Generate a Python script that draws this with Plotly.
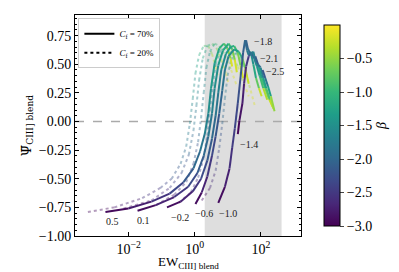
import plotly.graph_objects as go
from plotly.colors import sample_colorscale

# ---------------- data ----------------
# solid curves, C_f = 70 %  (log10 EW, Psi, beta)
s05_logew = [-2.70, -2.01, -1.31, -0.76, -0.34, -0.04, 0.16, 0.30, 0.41, 0.49, 0.60, 0.74, 0.88, 0.99, 1.08, 1.13]
s05_psi   = [-0.79, -0.76, -0.70, -0.63, -0.53, -0.41, -0.26, -0.11, 0.07, 0.29, 0.51, 0.64, 0.68, 0.64, 0.55, 0.48]
s05_beta  = [-3.0, -2.85, -2.65, -2.45, -2.25, -2.05, -1.9, -1.75, -1.6, -1.45, -1.3, -1.15, -1.0, -0.7, -0.35, 0.0]

s01_logew = [-1.73, -1.18, -0.62, -0.20, 0.08, 0.27, 0.41, 0.52, 0.60, 0.71, 0.85, 1.02, 1.13, 1.21, 1.27]
s01_psi   = [-0.78, -0.73, -0.66, -0.57, -0.45, -0.30, -0.13, 0.07, 0.29, 0.49, 0.62, 0.68, 0.63, 0.54, 0.43]
s01_beta  = [-3.0, -2.8, -2.6, -2.4, -2.2, -2.05, -1.9, -1.75, -1.6, -1.45, -1.3, -1.1, -0.8, -0.4, 0.0]

sm02_logew = [-0.84, -0.43, -0.06, 0.19, 0.38, 0.52, 0.63, 0.71, 0.80, 0.94, 1.08, 1.19, 1.30, 1.38, 1.46]
sm02_psi   = [-0.75, -0.70, -0.61, -0.50, -0.34, -0.15, 0.05, 0.25, 0.45, 0.59, 0.65, 0.66, 0.60, 0.49, 0.38]
sm02_beta  = [-3.0, -2.8, -2.6, -2.4, -2.2, -2.05, -1.9, -1.75, -1.6, -1.45, -1.3, -1.1, -0.8, -0.4, 0.0]

sm06_logew = [0.02, 0.21, 0.38, 0.52, 0.63, 0.74, 0.83, 0.91, 1.02, 1.19, 1.33, 1.44, 1.52, 1.63]
sm06_psi   = [-0.72, -0.62, -0.48, -0.30, -0.13, 0.07, 0.27, 0.45, 0.57, 0.63, 0.61, 0.55, 0.47, 0.33]
sm06_beta  = [-3.0, -2.8, -2.6, -2.4, -2.25, -2.1, -1.95, -1.8, -1.65, -1.45, -1.2, -0.9, -0.5, 0.0]

sm10_logew = [0.71, 0.91, 1.05, 1.13, 1.21, 1.30, 1.38, 1.46, 1.52, 1.58, 1.63, 1.69, 1.77, 1.85, 1.94, 2.02]
sm10_psi   = [-0.71, -0.57, -0.41, -0.23, -0.06, 0.16, 0.38, 0.60, 0.71, 0.62, 0.58, 0.61, 0.50, 0.38, 0.29, 0.22]
sm10_beta  = [-3.0, -2.8, -2.65, -2.5, -2.4, -2.3, -2.2, -2.1, -2.0, -1.85, -1.7, -1.6, -1.4, -1.0, -0.5, 0.0]

sm14_logew = [1.30, 1.35, 1.44, 1.49, 1.55, 1.63, 1.71, 1.80, 1.88, 1.96, 2.07, 2.19]
sm14_psi   = [-0.11, 0.01, 0.16, 0.33, 0.48, 0.57, 0.60, 0.55, 0.48, 0.40, 0.29, 0.19]
sm14_beta  = [-3.0, -2.9, -2.8, -2.7, -2.6, -2.4, -2.2, -1.9, -1.6, -1.2, -0.7, 0.0]

sm18_logew = [1.55, 1.60, 1.69, 1.77, 1.85, 1.94, 2.02, 2.13, 2.24, 2.35]
sm18_psi   = [0.71, 0.64, 0.58, 0.61, 0.51, 0.47, 0.38, 0.29, 0.20, 0.13]
sm18_beta  = [-2.1, -2.0, -1.85, -1.75, -1.55, -1.4, -1.1, -0.8, -0.4, 0.0]

sm21_logew = [1.83, 1.91, 1.99, 2.07, 2.16, 2.27, 2.38]
sm21_psi   = [0.57, 0.50, 0.47, 0.38, 0.29, 0.19, 0.11]
sm21_beta  = [-2.2, -2.0, -1.8, -1.5, -1.1, -0.6, 0.0]

sm25_logew = [2.05, 2.13, 2.21, 2.30, 2.41]
sm25_psi   = [0.45, 0.38, 0.31, 0.22, 0.09]
sm25_beta  = [-2.3, -2.0, -1.6, -1.0, 0.0]

solid_labels = ["0.5", "0.1", "−0.2", "−0.6", "−1.0", "−1.4", "−1.8", "−2.1", "−2.5"]

# dotted curves, C_f = 20 %
d1_logew = [-3.23, -2.43, -1.59, -1.04, -0.70, -0.43, -0.26, -0.15, -0.06, 0.02, 0.13, 0.27, 0.41, 0.52, 0.63, 0.71]
d1_psi   = [-0.79, -0.75, -0.67, -0.58, -0.50, -0.37, -0.22, -0.02, 0.20, 0.42, 0.58, 0.66, 0.66, 0.59, 0.48, 0.38]
d1_beta  = [-3.0, -2.85, -2.65, -2.45, -2.25, -2.05, -1.85, -1.7, -1.55, -1.4, -1.2, -1.0, -0.75, -0.5, -0.25, 0.0]

d2_logew = [-2.15, -1.31, -0.76, -0.40, -0.18, -0.04, 0.05, 0.13, 0.24, 0.38, 0.52, 0.66, 0.80, 0.94, 1.02]
d2_psi   = [-0.76, -0.69, -0.58, -0.45, -0.29, -0.08, 0.14, 0.36, 0.55, 0.66, 0.68, 0.64, 0.54, 0.42, 0.33]
d2_beta  = [-3.0, -2.75, -2.5, -2.3, -2.1, -1.9, -1.75, -1.55, -1.35, -1.15, -0.9, -0.65, -0.4, -0.15, 0.0]

d3_logew = [-1.17, -0.62, -0.26, -0.04, 0.10, 0.19, 0.27, 0.35, 0.46, 0.60, 0.74, 0.91, 1.10, 1.27]
d3_psi   = [-0.73, -0.64, -0.53, -0.37, -0.18, 0.03, 0.25, 0.47, 0.61, 0.68, 0.66, 0.58, 0.45, 0.31]
d3_beta  = [-3.0, -2.75, -2.5, -2.3, -2.1, -1.9, -1.7, -1.5, -1.3, -1.1, -0.85, -0.6, -0.3, 0.0]

d4_logew = [-0.48, -0.12, 0.10, 0.27, 0.38, 0.46, 0.55, 0.63, 0.77, 0.94, 1.10, 1.30, 1.49, 1.63]
d4_psi   = [-0.71, -0.62, -0.49, -0.32, -0.12, 0.10, 0.32, 0.50, 0.62, 0.65, 0.60, 0.48, 0.33, 0.22]
d4_beta  = [-3.0, -2.75, -2.5, -2.3, -2.1, -1.9, -1.7, -1.5, -1.3, -1.05, -0.8, -0.5, -0.2, 0.0]

d5_logew = [0.21, 0.46, 0.63, 0.74, 0.83, 0.91, 0.99, 1.10, 1.24, 1.38, 1.55, 1.69, 1.83]
d5_psi   = [-0.69, -0.58, -0.43, -0.23, -0.02, 0.20, 0.40, 0.54, 0.60, 0.55, 0.42, 0.27, 0.12]
d5_beta  = [-3.0, -2.75, -2.5, -2.3, -2.1, -1.9, -1.7, -1.5, -1.3, -1.0, -0.6, -0.3, 0.0]

beta_min, beta_max = -3.0, 0.0
shade_ew = [2.0, 420.0]
cbar_ticks = [-3.0, -2.5, -2.0, -1.5, -1.0, -0.5]

solid_curves = [
    (s05_logew, s05_psi, s05_beta), (s01_logew, s01_psi, s01_beta),
    (sm02_logew, sm02_psi, sm02_beta), (sm06_logew, sm06_psi, sm06_beta),
    (sm10_logew, sm10_psi, sm10_beta), (sm14_logew, sm14_psi, sm14_beta),
    (sm18_logew, sm18_psi, sm18_beta), (sm21_logew, sm21_psi, sm21_beta),
    (sm25_logew, sm25_psi, sm25_beta),
]
dotted_curves = [
    (d1_logew, d1_psi, d1_beta), (d2_logew, d2_psi, d2_beta), (d3_logew, d3_psi, d3_beta),
    (d4_logew, d4_psi, d4_beta), (d5_logew, d5_psi, d5_beta),
]
# label offsets (px right, px up) from each solid curve's first point
label_offsets = [(7, -10), (6, -10), (13, -10), (9, -10), (10, -11), (11, -10), (17, -1), (14, -2), (12, -2)]

SERIF = "'Liberation Serif', 'Times New Roman', 'DejaVu Serif', serif"
SERIF2 = "'DejaVu Serif', serif"


def col(b):
    return sample_colorscale("Viridis", [(b - beta_min) / (beta_max - beta_min)])[0]


fig = go.Figure()

for lx, py, bb in dotted_curves:
    ew = [10 ** v for v in lx]
    for i in range(len(ew) - 1):
        fig.add_trace(go.Scatter(
            x=[ew[i], ew[i + 1]], y=[py[i], py[i + 1]], mode="lines",
            line=dict(color=col((bb[i] + bb[i + 1]) / 2), width=2, dash="dot"),
            opacity=0.4, showlegend=False, hoverinfo="skip"))

for lx, py, bb in solid_curves:
    ew = [10 ** v for v in lx]
    for i in range(len(ew) - 1):
        fig.add_trace(go.Scatter(
            x=[ew[i], ew[i + 1]], y=[py[i], py[i + 1]], mode="lines",
            line=dict(color=col((bb[i] + bb[i + 1]) / 2), width=2),
            showlegend=False, hoverinfo="skip"))

# legend entries
fig.add_trace(go.Scatter(x=[None], y=[None], mode="lines", line=dict(color="black", width=2),
                         name="<i>C</i><sub>f</sub> = 70%"))
fig.add_trace(go.Scatter(x=[None], y=[None], mode="lines", line=dict(color="black", width=2, dash="dot"),
                         name="<i>C</i><sub>f</sub> = 20%"))

# colorbar carrier
fig.add_trace(go.Scatter(
    x=[1e-9], y=[-5], mode="markers", showlegend=False, hoverinfo="skip",
    marker=dict(color=[beta_min], colorscale="Viridis", cmin=beta_min, cmax=beta_max, size=1,
                showscale=True,
                colorbar=dict(x=1.057, xanchor="left", y=0.5, yanchor="middle", len=1.0, lenmode="fraction",
                              thickness=16, outlinecolor="black", outlinewidth=1,
                              tickvals=cbar_ticks, tickformat=".1f", ticks="outside", ticklen=4,
                              tickfont=dict(family=SERIF, size=14, color="black"),
                              title=dict(text="<i>β</i>", side="right",
                                         font=dict(family=SERIF, size=14, color="black"))))))

for (lx, py, bb), txt, (dx, dy) in zip(solid_curves, solid_labels, label_offsets):
    fig.add_annotation(x=lx[0], y=py[0], text=txt, showarrow=False, xref="x", yref="y",
                       xshift=dx, yshift=dy, font=dict(family=SERIF, size=10, color="#222222"))

# x-axis title as annotation (placed like the reference)
fig.add_annotation(x=0.5, y=-0.118, xref="paper", yref="paper", showarrow=False,
                   text="EW<sub>CIII] blend</sub>", xanchor="center", yanchor="middle",
                   font=dict(family=SERIF, size=13, color="black"))

fig.add_vrect(x0=shade_ew[0], x1=shade_ew[1], fillcolor="#dedede", line_width=0, layer="below")
fig.add_hline(y=0, line=dict(color="#aaaaaa", width=1.5, dash="dash"), layer="below")

fig.update_layout(
    width=399, height=272,
    margin=dict(l=67, r=86, t=7, b=44),
    paper_bgcolor="white", plot_bgcolor="white",
    font=dict(family=SERIF, size=14, color="black"),
    showlegend=True,
    legend=dict(x=0.015, y=0.985, xanchor="left", yanchor="top", bgcolor="white",
                bordercolor="#cccccc", borderwidth=1, font=dict(family=SERIF, size=9),
                itemwidth=30, tracegroupgap=0),
)
fig.update_xaxes(type="log", range=[-3.62, 3.21], showgrid=False, zeroline=False,
                 showline=True, linecolor="black", linewidth=1, mirror="allticks",
                 ticks="inside", ticklen=4, tickcolor="black",
                 tickvals=[1e-2, 1, 1e2], ticktext=["10<sup>−2</sup>", "10<sup>0</sup>", "10<sup>2</sup>"],
                 tickfont=dict(family=SERIF, size=14))
fig.update_yaxes(range=[-1.0, 0.93], showgrid=False, zeroline=False,
                 showline=True, linecolor="black", linewidth=1, mirror="allticks",
                 ticks="inside", ticklen=4, tickcolor="black", dtick=0.25, tick0=0, tickformat=".2f",
                 minor=dict(ticks="inside", ticklen=2, dtick=0.05, tick0=0, tickcolor="black"),
                 tickfont=dict(family=SERIF, size=14),
                 title=dict(text="Ψ\u0304<sub>CIII] blend</sub>", font=dict(family=SERIF2, size=13), standoff=4))

fig.write_html("out.html")
